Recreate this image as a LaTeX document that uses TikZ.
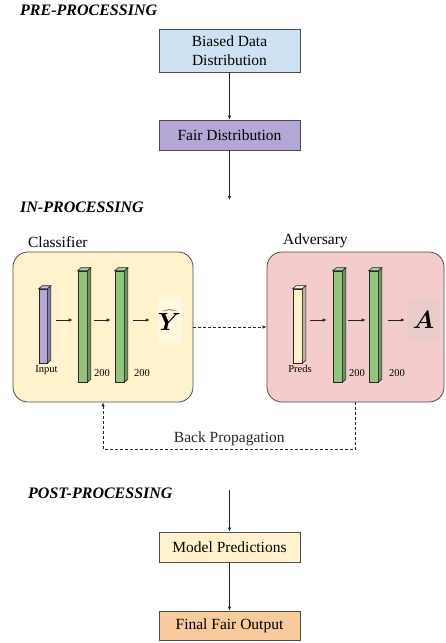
\documentclass[tikz,border=0pt]{standalone}
\usepackage{fontspec}
\setmainfont{Liberation Serif}
\usetikzlibrary{arrows.meta}

\definecolor{bluefill}{HTML}{CFE2F3}
\definecolor{purpfill}{HTML}{B4A7D6}
\definecolor{yelfill}{HTML}{FFF2CC}
\definecolor{pinkfill}{HTML}{F4CCCC}
\definecolor{orfill}{HTML}{F9CB9C}
\definecolor{grnfill}{HTML}{93C47D}

\begin{document}
\begin{tikzpicture}[x=1pt,y=-1pt,
    box/.style={draw=black!70,line width=0.8pt,minimum width=141pt,minimum height=30pt,
        align=center,inner sep=2pt,font=\fontsize{15.5}{19}\selectfont},
    panel/.style={draw=black!70,line width=0.8pt,rounded corners=15pt},
    head/.style={anchor=west,inner sep=0pt,font=\fontsize{16}{19}\selectfont\bfseries\itshape},
    lbl/.style={anchor=south west,font=\fontsize{15.5}{18}\selectfont},
    bar/.style={draw=black!85,line width=0.6pt,inner sep=0pt},
    small/.style={inner sep=0pt,font=\fontsize{10.5}{12}\selectfont},
    outbox/.style={inner sep=0pt,font=\fontsize{24}{28}\selectfont\boldmath},
    arr/.style={-{Latex[length=4pt,width=3.5pt]},line width=0.7pt,black!85},
    darr/.style={arr,dash pattern=on 3pt off 2pt},
]
    \useasboundingbox (0,0) rectangle (445,643);

    % 预处理
    \node[head] (pre) at (20,10) {PRE-PROCESSING};
    \node[box,fill=bluefill,minimum height=43pt] (biased) at (229.5,50.5) {Biased Data\\Distribution};
    \node[box,fill=purpfill] (fair) at (229.5,135) {Fair Distribution};
    \coordinate (preend) at (229.5,200);
    \draw[arr] (biased) -- (fair);
    \draw[arr] (fair) -- (preend);

    % 训练过程
    \node[head] (inp) at (20,207) {IN-PROCESSING};
    \node[panel,fill=yelfill,minimum width=180pt,minimum height=150pt] (clf) at (103,327) {};
    \node[panel,fill=pinkfill,minimum width=177pt,minimum height=150pt] (adv) at (355.5,327) {};
    \node[lbl] (clflbl) at ([xshift=12pt]clf.north west) {Classifier};
    \node[lbl] (advlbl) at ([xshift=13pt]adv.north west) {Adversary};

    % 网络层
    \node[bar,fill=purpfill,minimum width=8pt,minimum height=74pt] (in) at (43,326) {};
    \node[bar,fill=grnfill,minimum width=9pt,minimum height=111pt] (c1) at (82.5,326.5) {};
    \node[bar,fill=grnfill,minimum width=9pt,minimum height=111pt] (c2) at (119.5,326.5) {};
    \node[bar,fill=yelfill,minimum width=9pt,minimum height=74pt] (pr) at (297.5,326) {};
    \node[bar,fill=grnfill,minimum width=9pt,minimum height=111pt] (a1) at (337.5,326.5) {};
    \node[bar,fill=grnfill,minimum width=9pt,minimum height=111pt] (a2) at (373.5,326.5) {};
    \foreach \b/\c in {in/purpfill,c1/grnfill,c2/grnfill,pr/yelfill,a1/grnfill,a2/grnfill}{
        \filldraw[bar,fill=\c!75!black] (\b.north east) -- ([shift={(3.5,-3)}]\b.north east)
            -- ([shift={(3.5,-3)}]\b.south east) -- (\b.south east) -- cycle;
        \filldraw[bar,fill=\c!70!white] (\b.north west) -- ([shift={(3.5,-3)}]\b.north west)
            -- ([shift={(3.5,-3)}]\b.north east) -- (\b.north east) -- cycle;
    }

    % 层标注
    \node[small] (inlbl) at (46.5,370) {Input};
    \node[small] (c1lbl) at (102,373) {200};
    \node[small] (c2lbl) at (142,373) {200};
    \node[small] (prlbl) at (300,369) {Preds};
    \node[small] (a1lbl) at (357,373) {200};
    \node[small] (a2lbl) at (397,373) {200};

    % 输出
    \node[outbox,fill=yelfill!60!white,minimum width=25pt,minimum height=46pt] (yhat) at (169.5,320) {$\widehat{Y}$};
    \node[outbox,fill=pinkfill!80!white!95!black,minimum width=33pt,minimum height=41pt] (att) at (423.5,320) {$A$};

    \draw[arr,shorten <=9pt,shorten >=5pt] (in.east |- yhat) -- (c1.west |- yhat);
    \draw[arr,shorten <=7pt,shorten >=4pt] (c1.east |- yhat) -- (c2.west |- yhat);
    \draw[arr,shorten <=9pt,shorten >=7pt] (c2.east |- yhat) -- (yhat.west);
    \draw[arr,shorten <=8pt,shorten >=6pt] (pr.east |- att) -- (a1.west |- att);
    \draw[arr,shorten <=6pt,shorten >=3pt] (a1.east |- att) -- (a2.west |- att);
    \draw[arr,shorten <=10pt,shorten >=2pt] (a2.east |- att) -- (att.west);

    % 对抗连接
    \draw[darr] (clf.east) -- (adv.west);
    \draw[darr] (adv.south) -- ++(0,47) -| node[pos=0.25,above,font=\fontsize{15.5}{18}\selectfont] {Back Propagation} (clf.south);

    % 后处理
    \node[head] (post) at (28,493) {POST-PROCESSING};
    \coordinate (poststart) at (229.5,490);
    \node[box,fill=yelfill] (model) at (229.5,547) {Model Predictions};
    \node[box,fill=orfill,minimum height=29pt] (final) at (229.5,625.5) {Final Fair Output};
    \draw[arr] (poststart) -- (model);
    \draw[arr] (model) -- (final);
\end{tikzpicture}
\end{document}
